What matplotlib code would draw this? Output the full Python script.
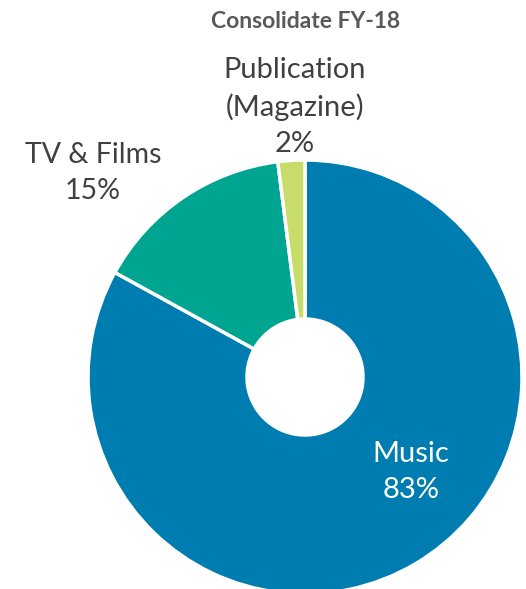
import matplotlib.pyplot as plt

plt.rcParams['font.family'] = ['Lato', 'DejaVu Sans']

# data
categories = ['Music', 'TV & Films', 'Publication\n(Magazine)']
shares = [83, 15, 2]
colors = ['#007DB0', '#00A591', '#C8DC6A']

fig = plt.figure(figsize=(5.26, 5.89), dpi=100)
ax = fig.add_axes([0, 0, 1, 1])

# donut, clockwise from 12 o'clock (y axis inverted -> counterclock=True draws clockwise)
ax.pie(shares, colors=colors, startangle=-90, counterclock=True,
       center=(305, 377), radius=217, frame=True,
       wedgeprops=dict(width=217 - 58, edgecolor='white', linewidth=2.5))
ax.set_xlim(0, 526)
ax.set_ylim(589, 0)
ax.set_aspect('equal')
ax.axis('off')

ax.text(306, 21, 'Consolidate FY-18', ha='center', va='center',
        fontsize=16.5, fontweight='bold', color='#595959')

ax.text(295, 107, 'Publication\n(Magazine)\n2%', ha='center', va='center',
        fontsize=21, color='#404040', linespacing=1.45)
ax.text(93, 173, 'TV & Films\n15%', ha='center', va='center',
        fontsize=20.5, color='#404040', linespacing=1.45)
ax.text(411, 472, 'Music\n83%', ha='center', va='center',
        fontsize=21, color='white', linespacing=1.45)

fig.savefig('out.png', dpi=100)
